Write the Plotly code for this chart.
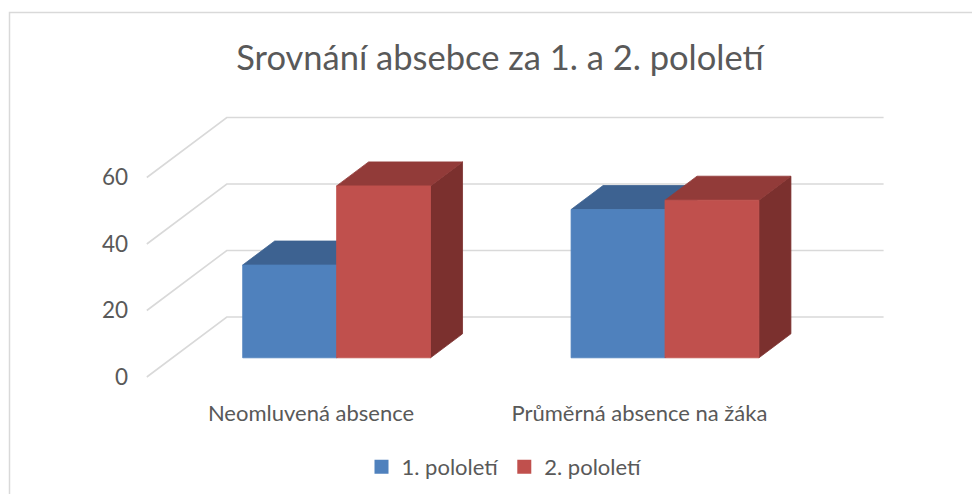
import plotly.graph_objects as go

# ---- data ----
categories = ["Neomluvená absence", "Průměrná absence na žáka"]
series_names = ["1. pololetí", "2. pololetí"]
pololeti_1 = [27.9, 44.6]
pololeti_2 = [51.7, 47.4]
y_ticks = [0, 20, 40, 60]

# ---- styling / geometry (not data) ----
OFF = 8  # page body margin
W, H = 980 - OFF, 494 - OFF
ML = 140 - OFF
MT = 110 - OFF
MR = W - (900 - OFF)
MB = H - (380 - OFF)
PX_PER_CAT = 328.4
PX_PER_VAL = 3.325
CAT0_PX = 311.0 - OFF
ZERO_PX = 377.0 - OFF
PLOT_W = W - ML - MR
PLOT_H = H - MT - MB
X_RANGE = [(ML - CAT0_PX) / PX_PER_CAT, (W - MR - CAT0_PX) / PX_PER_CAT]
Y_RANGE = [(ZERO_PX - (H - MB)) / PX_PER_VAL, (ZERO_PX - MT) / PX_PER_VAL]
DX = 80 / PX_PER_CAT          # full depth shift in category units
DY = 60 / PX_PER_VAL          # full depth shift in value units
D_FRONT, D_BACK = 0.32, 0.72  # bar depth positions
BAR_W = 0.286
TEXT = "#595959"
GRID = "#D9D9D9"
FONT = "Lato"

series_vals = [pololeti_1, pololeti_2]
face_cols = [
    {"front": "#4F81BD", "top": "#3D6291", "side": "#335479"},
    {"front": "#C0504D", "top": "#923B39", "side": "#7B302E"},
]


def proj(x, y, d):
    return x + d * DX, y + d * DY


def poly(pts, color):
    xs = [p[0] for p in pts] + [pts[0][0]]
    ys = [p[1] for p in pts] + [pts[0][1]]
    return go.Scatter(x=xs, y=ys, mode="lines", fill="toself", fillcolor=color,
                      line=dict(color=color, width=0.8), hoverinfo="skip",
                      showlegend=False)


fig = go.Figure()

# gridlines: back wall + left wall diagonals
for t in y_ticks:
    a = proj(-0.5, t, 0)
    b = proj(-0.5, t, 1)
    c = proj(len(categories) - 0.5, t, 1)
    fig.add_trace(go.Scatter(x=[a[0], b[0], c[0]], y=[a[1], b[1], c[1]], mode="lines",
                             line=dict(color=GRID, width=1.6), hoverinfo="skip",
                             showlegend=False))

# 3D bars
for i, cat in enumerate(categories):
    for s, vals in enumerate(series_vals):
        v = vals[i]
        x0 = i - BAR_W + s * BAR_W
        x1 = x0 + BAR_W
        cols = face_cols[s]
        side = [proj(x1, 0, D_FRONT), proj(x1, v, D_FRONT), proj(x1, v, D_BACK), proj(x1, 0, D_BACK)]
        top = [proj(x0, v, D_FRONT), proj(x1, v, D_FRONT), proj(x1, v, D_BACK), proj(x0, v, D_BACK)]
        front = [proj(x0, 0, D_FRONT), proj(x1, 0, D_FRONT), proj(x1, v, D_FRONT), proj(x0, v, D_FRONT)]
        fig.add_trace(poly(side, cols["side"]))
        fig.add_trace(poly(top, cols["top"]))
        fig.add_trace(poly(front, cols["front"]))

# legend entries
for s, name in enumerate(series_names):
    fig.add_trace(go.Scatter(x=[None], y=[None], mode="markers", name=name,
                             marker=dict(symbol="square", size=14, color=face_cols[s]["front"])))

# chart border
fig.add_shape(type="rect", xref="paper", yref="paper",
              x0=(9.5 - OFF - ML) / PLOT_W, x1=(1010 - ML) / PLOT_W,
              y0=(H - MB - 540) / PLOT_H, y1=(H - MB - (12.5 - OFF)) / PLOT_H,
              line=dict(color="#D9D9D9", width=1.5), layer="below")

fig.update_layout(
    width=W, height=H,
    margin=dict(l=ML, r=MR, t=MT, b=MB, autoexpand=False),
    paper_bgcolor="white", plot_bgcolor="white",
    font=dict(family=FONT, color=TEXT),
    title=dict(text="Srovnání absebce za 1. a 2. pololetí", x=(500 - OFF) / W, xanchor="center",
               xref="container", yref="container", y=1 - (58 - OFF) / H, yanchor="middle",
               font=dict(size=34.5, color=TEXT, family=FONT)),
    xaxis=dict(range=X_RANGE, showgrid=False, zeroline=False, showline=False, automargin=False,
               tickvals=list(range(len(categories))), ticktext=categories,
               ticks="", tickfont=dict(size=22, color=TEXT), ticklabelstandoff=18),
    yaxis=dict(range=Y_RANGE, showgrid=False, zeroline=False, showline=False, automargin=False,
               tickvals=y_ticks, ticks="", tickfont=dict(size=22.5, color=TEXT),
               ticklabelstandoff=11),
    showlegend=True,
    legend=dict(orientation="h", x=(504.5 - OFF - ML) / PLOT_W, xanchor="center",
                y=(H - MB - (467 - OFF)) / PLOT_H, yanchor="middle",
                font=dict(size=22, color=TEXT), itemwidth=30),
)

fig.write_html("out.html")
